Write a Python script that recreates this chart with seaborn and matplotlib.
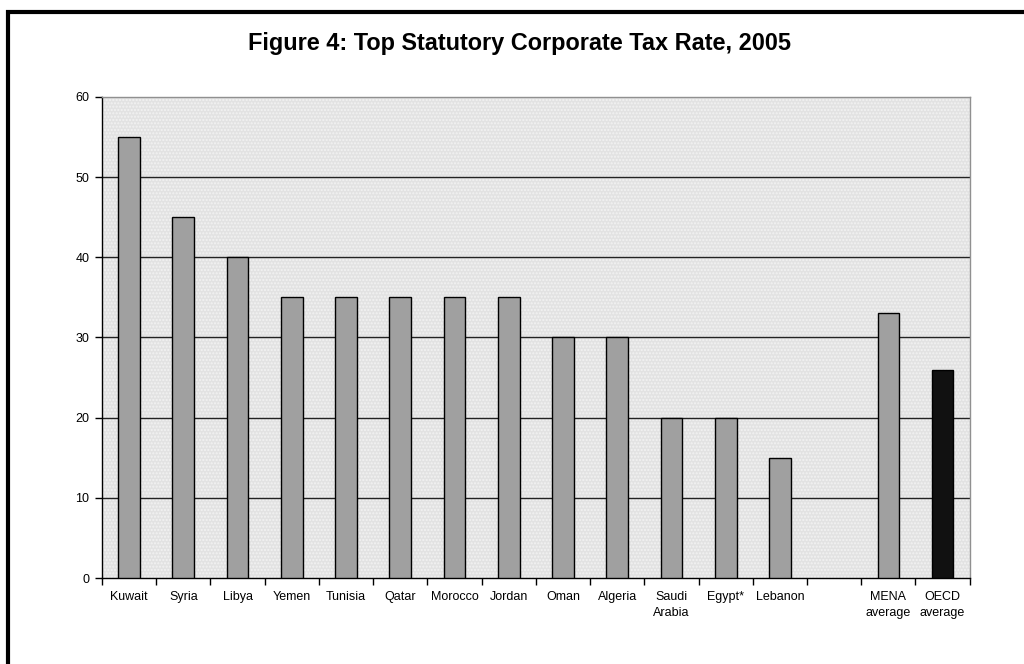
import seaborn as sns
import matplotlib.pyplot as plt
import matplotlib.patches as mpatches
from matplotlib import font_manager
import numpy as np
import pandas as pd

# data
countries = ['Kuwait', 'Syria', 'Libya', 'Yemen', 'Tunisia', 'Qatar', 'Morocco',
             'Jordan', 'Oman', 'Algeria', 'Saudi\nArabia', 'Egypt*', 'Lebanon',
             '', 'MENA\naverage', 'OECD\naverage']
rates = [55, 45, 40, 35, 35, 35, 35, 35, 30, 30, 20, 20, 15, np.nan, 33, 26]

df = pd.DataFrame({'country': countries, 'rate': rates}).dropna()
colors = {c: '#a0a0a0' for c in countries}
colors['OECD\naverage'] = '#111111'

sns.set_style('white')
plt.rcParams['font.family'] = ['Liberation Sans', 'DejaVu Sans']
plt.rcParams['text.color'] = 'black'
plt.rcParams['xtick.color'] = 'black'
plt.rcParams['ytick.color'] = 'black'

# pick the regular-width bold face (not the Narrow one)
bold_file = None
for f in font_manager.fontManager.ttflist:
    if f.name == 'Liberation Sans' and f.weight in (700, 'bold') and f.style == 'normal' \
            and 'Narrow' not in f.fname:
        bold_file = f.fname
        break
title_font = font_manager.FontProperties(fname=bold_file, size=16.9) if bold_file else \
    font_manager.FontProperties(family='DejaVu Sans', weight='bold', size=15)

fig = plt.figure(figsize=(10.24, 6.64), dpi=100)
ax = fig.add_axes([0.0996, 0.1295, 0.8474, 0.7245])

# figure frame (top and left visible)
fig.patches.append(mpatches.Rectangle((8 / 1024, -0.1), 1.2, 1.1 - 12 / 664,
                                      transform=fig.transFigure, fill=False,
                                      edgecolor='black', linewidth=3))

ax.set_facecolor('#e2e2e2')
ax.add_patch(mpatches.Rectangle((0, 0), 1, 1, transform=ax.transAxes,
                                facecolor='none', edgecolor='#f2f2f2',
                                hatch='.....', linewidth=0, zorder=0))

sns.barplot(data=df, x='country', y='rate', hue='country', order=countries,
            hue_order=countries, palette=colors, legend=False, width=0.4,
            edgecolor='black', linewidth=1, ax=ax, zorder=3)

ax.set_ylim(0, 60)
ax.set_yticks(range(0, 61, 10))
ax.set_xlim(-0.5, len(countries) - 0.5)
for y in range(10, 60, 10):
    ax.axhline(y, color='#222222', linewidth=1, zorder=1)

ax.set_xticks(np.arange(-0.5, len(countries), 1))
ax.set_xticklabels([])
ax.set_xticks(np.arange(len(countries)), minor=True)
ax.set_xticklabels(countries, minor=True, fontsize=9, linespacing=1.45)
ax.tick_params(axis='x', which='major', direction='out', length=5, width=1, color='black', bottom=True)
ax.tick_params(axis='x', which='minor', length=0, pad=9)
ax.tick_params(axis='y', direction='out', length=5, width=1, color='black', left=True, labelsize=9, pad=4)

ax.set_xlabel('')
ax.set_ylabel('')
for s in ['left', 'bottom']:
    ax.spines[s].set_color('black')
    ax.spines[s].set_linewidth(1)
for s in ['top', 'right']:
    ax.spines[s].set_visible(True)
    ax.spines[s].set_color('#909090')
    ax.spines[s].set_linewidth(1)

fig.text(0.507, 0.935, 'Figure 4: Top Statutory Corporate Tax Rate, 2005',
         ha='center', va='center', fontproperties=title_font)

fig.savefig('out.png', dpi=100)
